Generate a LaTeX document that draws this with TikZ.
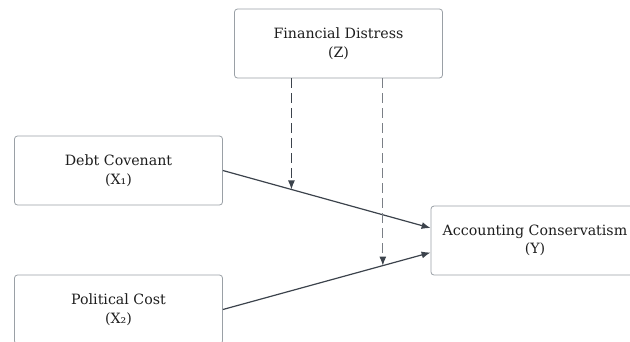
\documentclass[tikz,border=0pt]{standalone}
\usepackage{fontspec}
\setmainfont{DejaVu Serif}
\usetikzlibrary{positioning,calc,arrows.meta}
\definecolor{boxgray}{HTML}{9AA0A6}
\definecolor{linegray}{HTML}{3C434C}
\definecolor{dashgray}{HTML}{7A7F86}
\definecolor{txtgray}{HTML}{1E1E1E}
\tikzset{font={\fontsize{14.2pt}{18.5pt}\selectfont}}

\begin{document}
\begin{tikzpicture}[x=1pt,y=-1pt,
    box/.style={draw=boxgray, line width=0.8pt, rounded corners=3pt, fill=white,
      minimum width=208pt, minimum height=69pt, align=center, text=txtgray},
    link/.style={draw=linegray, line width=1.2pt, -{Latex[length=9pt,width=7pt]}},
    modlink/.style={line width=1.2pt, dash pattern=on 10pt off 5pt,
      -{Latex[length=9pt,width=7pt,color=linegray]}}]
  \useasboundingbox (0,0) rectangle (630,341);
  \clip (0,0) rectangle (630,341);
  %boxes
  \node[box] (dist) at (338.5,43.5) {Financial Distress\\(Z)};
  \node[box] (debt) at (118.5,170.5) {Debt Covenant\\(X₁)};
  \node[box] (pol) at (118.5,309.5) {Political Cost\\(X₂)};
  \node[box] (acc) at (535,240.5) {Accounting Conservatism\\(Y)};
  %end points on Y
  \coordinate (accA) at ($(acc.west)+(0,-12.5)$);
  \coordinate (accB) at ($(acc.west)+(0,12)$);
  %direct effects
  \draw[link] (debt.east) -- (accA);
  \draw[link] (pol.east) -- (accB);
  %moderation
  \coordinate (m1) at ($(debt.east)!0.33!(accA)$);
  \coordinate (m2) at ($(pol.east)!0.77!(accB)$);
  \draw[modlink, draw=linegray] (dist.south -| m1) -- (m1);
  \draw[modlink, draw=dashgray] (dist.south -| m2) -- (m2);
\end{tikzpicture}
\end{document}
